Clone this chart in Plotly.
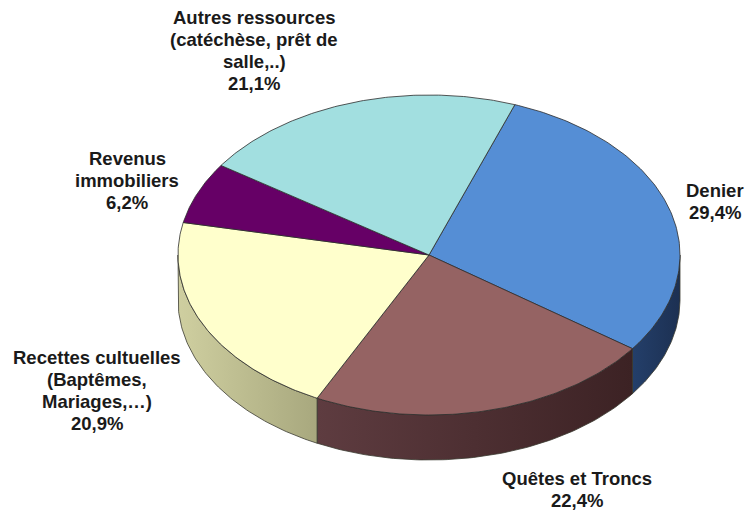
import numpy as np
import plotly.graph_objects as go

labels = ["Denier", "Quêtes et Troncs", "Recettes cultuelles (Baptêmes, Mariages,…)",
          "Revenus immobiliers", "Autres ressources (catéchèse, prêt de salle,..)"]
values = [29.4, 22.4, 20.9, 6.2, 21.1]
top_colors = ["#558ed5", "#956363", "#ffffcc", "#660066", "#a2dfe0"]
wall_left = ["#243f6a", "#5e3c40", "#cfcfa0", "#400040", "#688f90"]
wall_right = ["#1c3052", "#3c2224", "#a8a87e", "#400040", "#688f90"]
label_text = ["Denier<br>29,4%", "Quêtes et Troncs<br>22,4%",
              "Recettes cultuelles<br>(Baptêmes,<br>Mariages,…)<br>20,9%",
              "Revenus<br>immobiliers<br>6,2%",
              "Autres ressources<br>(catéchèse, prêt de<br>salle,..)<br>21,1%"]
label_x = [715, 577, 97, 127, 254]
label_y = [201, 489, 390, 180, 50]

CX, CY, RX, RY, DEPTH, START, LINE = 429, 255, 251, 160, 45, 20, 22

def pt(t):
    t = np.radians(t)
    return CX + RX * np.sin(t), CY - RY * np.cos(t)

fig = go.Figure()
edges = START + np.concatenate([[0], np.cumsum(values)]) * 3.6

for i in range(len(values)):
    a, b = max(edges[i], 90), min(edges[i + 1], 270)
    if b <= a:
        continue
    ts = np.linspace(a, b, 80)
    x, y = pt(ts)
    xs = np.concatenate([x, x[::-1], x[:1]])
    ys = np.concatenate([y, y[::-1] + DEPTH, y[:1]])
    fig.add_trace(go.Scatter(
        x=xs, y=ys, mode="lines", fill="toself",
        fillgradient=dict(type="horizontal", colorscale=[[0, wall_left[i]], [1, wall_right[i]]]),
        line=dict(color="#3a3a30", width=0.8), hoverinfo="skip", showlegend=False))

for i in range(len(values)):
    ts = np.linspace(edges[i], edges[i + 1], 120)
    x, y = pt(ts)
    fig.add_trace(go.Scatter(
        x=np.concatenate([[CX], x, [CX]]), y=np.concatenate([[CY], y, [CY]]),
        mode="lines", fill="toself", fillcolor=top_colors[i],
        line=dict(color="#2c2c2c", width=0.8), name=labels[i],
        hovertemplate=f"{labels[i]}: {values[i]}%<extra></extra>", showlegend=False))

for tx, lx, ly in zip(label_text, label_x, label_y):
    lines = tx.split("<br>")
    for k, ln in enumerate(lines):
        fig.add_annotation(x=lx, y=ly + (k - (len(lines) - 1) / 2) * LINE, xref="x", yref="y",
                           text=f"<b>{ln}</b>", showarrow=False, align="center",
                           font=dict(family="Liberation Sans", size=18.5, color="#1a1a1a"))

fig.update_xaxes(visible=False, range=[0, 749], fixedrange=True)
fig.update_yaxes(visible=False, range=[511, 0], fixedrange=True)
fig.update_layout(width=749, height=511, margin=dict(l=0, r=0, t=0, b=0),
                  paper_bgcolor="white", plot_bgcolor="white", showlegend=False)
fig.write_html("out.html", config={"displayModeBar": False},
               post_script="document.body.style.margin='0';document.documentElement.style.overflow='hidden';")
